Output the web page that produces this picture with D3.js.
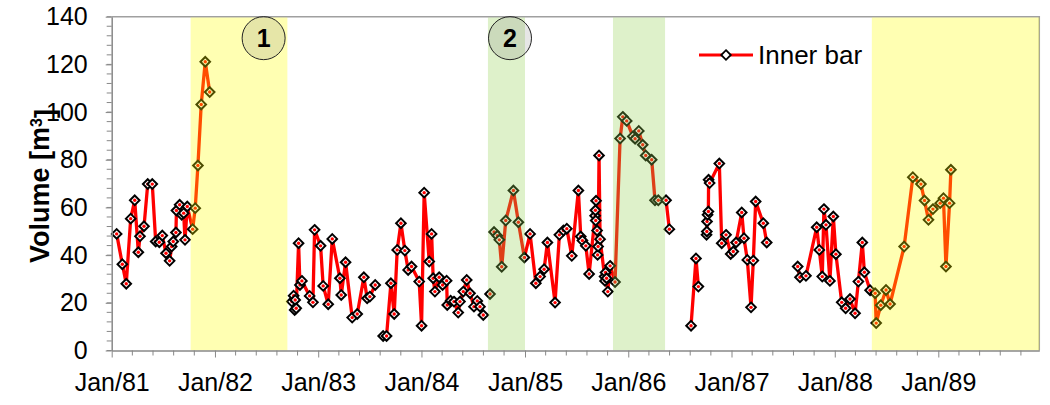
<!DOCTYPE html>
<html>
<head>
<meta charset="utf-8">
<script src="https://cdn.jsdelivr.net/npm/d3@7"></script>
<style>
    body { margin: 0; background: #fff; }
    text { font-family: "Liberation Sans", Arial, sans-serif; }
</style>
</head>
<body>
<script>
const WIDTH = 1050
const HEIGHT = 405

const PADDING = {
    left: 111.7,
    right: 10.7,
    top: 16.7,
    bottom: 54.5
}

// sample times as decimal years, null marks a break in the record
const times = [
    1981.048, 1981.103, 1981.141, 1981.184, 1981.223, 1981.258, 1981.274, 1981.313, 1981.349, 1981.393,
    1981.426, 1981.461, 1981.490, 1981.526, 1981.561, 1981.581, 1981.596, 1981.622, 1981.627, 1981.658,
    1981.678, 1981.697, 1981.710, 1981.732, 1981.784, 1981.809, 1981.835, 1981.867, 1981.906, 1981.949,
    null,
    1982.745, 1982.762, 1982.772, 1982.777, 1982.787, 1982.810, 1982.823, 1982.842, 1982.917, 1982.949,
    1982.965, 1983.023, 1983.048, 1983.097, 1983.136, 1983.210, 1983.223, 1983.265, 1983.329, 1983.378,
    1983.442, 1983.474, 1983.500, 1983.552,
    null,
    1983.629, 1983.662, 1983.704, 1983.736, 1983.765, 1983.801, 1983.839, 1983.871, 1983.904, 1983.978,
    1984.001, 1984.026, 1984.075, 1984.098, 1984.113, 1984.130, 1984.171, 1984.204, 1984.243, 1984.249,
    1984.282, 1984.314, 1984.355, 1984.372, 1984.404, 1984.437, 1984.469, 1984.507, 1984.539, 1984.565,
    1984.597,
    null,
    1984.662,
    null,
    1984.701, 1984.733, 1984.752, 1984.775, 1984.814, 1984.888, 1984.936, 1984.994, 1985.049, 1985.105,
    1985.146, 1985.185, 1985.217, 1985.291, 1985.333, 1985.372, 1985.405, 1985.453, 1985.517, 1985.540,
    1985.556, 1985.589, 1985.621, 1985.679, 1985.682, 1985.685, 1985.688, 1985.698, 1985.703, 1985.708,
    1985.717, 1985.727, 1985.771, 1985.775, 1985.780, 1985.790, 1985.802, 1985.824, 1985.872, 1985.921,
    1985.947, 1985.985, 1986.044, 1986.066, 1986.102, 1986.140, 1986.169, 1986.227, 1986.259, 1986.291,
    1986.366, 1986.398,
    null,
    1986.608, 1986.656, 1986.679,
    null,
    1986.758, 1986.761, 1986.763, 1986.768, 1986.776, 1986.778, 1986.788, 1986.882, 1986.905, 1986.947,
    1986.992, 1987.017, 1987.044, 1987.099, 1987.121, 1987.153, 1987.189, 1987.211, 1987.234, 1987.308,
    1987.341,
    null,
    1987.641, 1987.663, 1987.721, 1987.825, 1987.850, 1987.879, 1987.895, 1987.915, 1987.953, 1987.986,
    1988.011, 1988.067, 1988.105, 1988.147, 1988.196, 1988.228, 1988.266, 1988.286, 1988.341, 1988.390,
    1988.400, 1988.444, 1988.495, 1988.534, 1988.670, 1988.754, 1988.832, 1988.867, 1988.905, 1988.948,
    1989.018, 1989.050, 1989.074, 1989.109, 1989.122
]

// volume in m3
const volumes = [
    48.9, 36.2, 28.0, 55.3, 63.0, 41.2, 47.9, 52.1, 69.8, 69.8,
    45.7, 45.4, 48.2, 40.8, 37.6, 43.6, 45.7, 49.5, 58.7, 61.1,
    56.9, 57.6, 46.4, 60.4, 50.9, 59.7, 77.6, 103.2, 121.1, 108.4,
    null,
    20.5, 23.0, 17.0, 21.2, 17.7, 45.0, 27.5, 29.2, 22.9, 20.2,
    50.6, 43.9, 27.1, 19.4, 46.8, 30.3, 23.3, 37.0, 13.8, 15.3,
    30.7, 21.9, 22.6, 27.5,
    null,
    6.1, 6.1, 28.2, 15.3, 42.2, 53.4, 41.9, 33.8, 35.2, 28.9,
    10.4, 66.2, 37.3, 48.9, 30.3, 24.7, 30.7, 27.5, 29.3, 19.1,
    20.9, 20.5, 15.9, 20.5, 24.7, 29.6, 24.0, 18.4, 20.8, 18.4,
    14.9,
    null,
    23.7,
    null,
    49.7, 48.1, 46.4, 35.1, 54.5, 67.1, 53.8, 39.0, 48.9, 28.2,
    31.0, 34.1, 45.3, 20.1, 48.5, 50.3, 51.1, 39.7, 67.1, 47.8,
    46.1, 43.9, 32.1, 56.5, 58.8, 54.5, 62.8, 50.3, 40.1, 43.6,
    81.8, 46.7, 31.0, 29.2, 32.7, 30.3, 24.7, 35.5, 28.7, 88.9,
    98.0, 96.3, 89.8, 88.8, 92.1, 86.3, 81.8, 80.0, 63.0, 63.0,
    63.0, 50.9,
    null,
    10.4, 38.6, 26.8,
    null,
    48.5, 49.9, 54.1, 56.9, 58.3, 71.6, 70.2, 78.4, 45.0, 48.5,
    40.5, 41.5, 45.3, 57.9, 47.1, 38.0, 18.1, 37.7, 62.5, 53.4,
    45.3,
    null,
    35.2, 30.7, 31.3, 51.7, 42.2, 31.0, 59.3, 52.7, 29.2, 56.2,
    40.4, 20.2, 17.7, 21.6, 15.6, 28.9, 45.3, 32.8, 25.3, 24.0,
    11.5, 19.0, 25.4, 19.5, 43.6, 72.7, 69.8, 62.9, 54.8, 59.3,
    61.8, 63.9, 35.2, 61.8, 75.8
]

const yellowStart = ["1981-10-07", "1988-05-11"]
const yellowEnd = ["1982-09-14", "1989-12-24"]
const greenStart = ["1984-08-23", "1985-11-08"]
const greenEnd = ["1985-01-01", "1986-05-11"]

const noteLabels = ["1", "2"]
const noteDates = ["1982-06-22", "1984-11-09"]
const noteLevel = 131

const yTicks = d3.range(0, 141, 20)
const yMinorTicks = d3.range(0, 141, 4)
const tickYears = d3.range(1981, 1990)

const parseDay = d3.utcParse("%Y-%m-%d")

const yearToDate = (t) => {
    let y = Math.floor(t)
    let start = Date.UTC(y, 0, 1)
    let end = Date.UTC(y + 1, 0, 1)
    return new Date(start + (t - y) * (end - start))
}

const dataset = times.map((t, i) => ({
    date: t === null ? null : yearToDate(t),
    value: volumes[i]
}))
const points = dataset.filter(d => d.value !== null)

const svg = d3.select("body")
    .append("svg")
    .attr("width", WIDTH)
    .attr("height", HEIGHT)

const xScale = d3.scaleUtc()
    .domain([new Date(Date.UTC(1981, 0, 1)), new Date(Date.UTC(1989, 11, 24))])
    .range([PADDING.left, WIDTH - PADDING.right])

const yScale = d3.scaleLinear()
    .domain([0, 140])
    .range([HEIGHT - PADDING.bottom, PADDING.top])

const plot = svg.append("g")

// plot frame, top and right
plot.append("path")
    .attr("d", `M${PADDING.left},${PADDING.top}H${WIDTH - PADDING.right}V${HEIGHT - PADDING.bottom}`)
    .attr("fill", "none")
    .attr("stroke", "#a0a0a0")
    .attr("stroke-width", 1.5)

const line = d3.line()
    .defined(d => d.value !== null)
    .x(d => xScale(d.date))
    .y(d => yScale(d.value))

plot.append("path")
    .datum(dataset)
    .attr("d", line)
    .attr("fill", "none")
    .attr("stroke", "#ff0000")
    .attr("stroke-width", 3.3)
    .attr("stroke-linejoin", "round")

const diamond = "M0,-4.8L4.8,0L0,4.8L-4.8,0Z"

const markers = plot.selectAll(".marker")
    .data(points)
    .enter()
    .append("g")
    .attr("class", "marker")
    .attr("transform", d => `translate(${xScale(d.date)},${yScale(d.value)})`)

markers.append("path")
    .attr("d", diamond)
    .attr("fill", "#fff")
    .attr("stroke", "#000")
    .attr("stroke-width", 2)

markers.append("circle")
    .attr("r", 1.7)
    .attr("fill", "#ff0000")

// shaded periods laid over the series
plot.selectAll(".yellow")
    .data(yellowStart)
    .enter()
    .append("rect")
    .attr("x", (d, i) => xScale(parseDay(d)))
    .attr("width", (d, i) => xScale(parseDay(yellowEnd[i])) - xScale(parseDay(d)))
    .attr("y", PADDING.top + 0.75)
    .attr("height", HEIGHT - PADDING.bottom - PADDING.top - 0.75)
    .attr("fill", "rgba(255,255,0,0.3)")

plot.selectAll(".green")
    .data(greenStart)
    .enter()
    .append("rect")
    .attr("x", (d, i) => xScale(parseDay(d)))
    .attr("width", (d, i) => xScale(parseDay(greenEnd[i])) - xScale(parseDay(d)))
    .attr("y", PADDING.top + 0.75)
    .attr("height", HEIGHT - PADDING.bottom - PADDING.top - 0.75)
    .attr("fill", "rgba(146,208,80,0.3)")

const notes = plot.selectAll(".note")
    .data(noteLabels)
    .enter()
    .append("g")
    .attr("transform", (d, i) => `translate(${xScale(parseDay(noteDates[i]))},${yScale(noteLevel)})`)

notes.append("circle")
    .attr("r", 21.5)
    .attr("fill", "rgba(128,128,128,0.2)")
    .attr("stroke", "#222")
    .attr("stroke-width", 1)

notes.append("text")
    .attr("text-anchor", "middle")
    .attr("dy", "0.36em")
    .style("font-size", "25px")
    .style("font-weight", "bold")
    .text(d => d)

// axes
const yAxis = d3.axisLeft(yScale)
    .tickValues(yTicks)
    .tickSize(6)
    .tickSizeOuter(0)
    .tickPadding(18)

const gy = svg.append("g")
    .attr("transform", `translate(${PADDING.left},0)`)
    .call(yAxis)

gy.selectAll(".tick line").attr("stroke", "#888")
gy.select(".domain").attr("stroke", "#888").attr("stroke-width", 1.5)
gy.selectAll("text")
    .attr("fill", "#000")
    .style("font-size", "25px")
    .style("font-family", "'Liberation Sans', Arial, sans-serif")

gy.selectAll(".minor")
    .data(yMinorTicks)
    .enter()
    .append("line")
    .attr("x1", -5)
    .attr("x2", 0)
    .attr("y1", d => yScale(d))
    .attr("y2", d => yScale(d))
    .attr("stroke", "#888")

const xAxis = d3.axisBottom(xScale)
    .tickValues(tickYears.map(y => new Date(Date.UTC(y, 0, 1))))
    .tickFormat(d3.utcFormat("Jan/%y"))
    .tickSize(7)
    .tickSizeOuter(0)
    .tickPadding(16)

const gx = svg.append("g")
    .attr("transform", `translate(0,${HEIGHT - PADDING.bottom})`)
    .call(xAxis)

gx.selectAll(".tick line").attr("stroke", "#888")
gx.select(".domain").attr("stroke", "#888").attr("stroke-width", 1.5)
gx.selectAll("text")
    .attr("fill", "#000")
    .style("font-size", "25px")
    .style("font-family", "'Liberation Sans', Arial, sans-serif")

const xMinorTicks = []
tickYears.forEach(y => {
    for (let k = 1; k < 5; k++) {
        xMinorTicks.push(d3.utcDay.offset(new Date(Date.UTC(y, 0, 1)), k * 73))
    }
})

gx.selectAll(".minor")
    .data(xMinorTicks)
    .enter()
    .append("line")
    .attr("x1", d => xScale(d))
    .attr("x2", d => xScale(d))
    .attr("y1", 0)
    .attr("y2", 5)
    .attr("stroke", "#888")

svg.append("text")
    .attr("transform", "translate(49,186) rotate(-90)")
    .attr("text-anchor", "middle")
    .style("font-size", "27px")
    .style("font-weight", "bold")
    .text("Volume [m")
    .append("tspan")
    .attr("dy", "-0.45em")
    .style("font-size", "16px")
    .text("3")
    .append("tspan")
    .attr("dy", "0.45em")
    .style("font-size", "27px")
    .text("]")

// legend
const legend = svg.append("g")
    .attr("transform", "translate(699,55)")

legend.append("line")
    .attr("x1", 0)
    .attr("x2", 54)
    .attr("stroke", "#ff0000")
    .attr("stroke-width", 3)

legend.append("path")
    .attr("d", diamond)
    .attr("transform", "translate(27,0)")
    .attr("fill", "#fff")
    .attr("stroke", "#000")
    .attr("stroke-width", 1.8)

legend.append("text")
    .attr("x", 59)
    .attr("dy", "0.36em")
    .style("font-size", "26px")
    .text("Inner bar")
</script>
</body>
</html>
